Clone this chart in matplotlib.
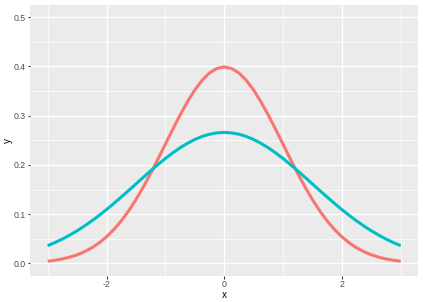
import matplotlib
matplotlib.use("Agg")
import matplotlib.pyplot as plt
from matplotlib.ticker import MultipleLocator

plt.rcParams["font.family"] = ["Liberation Sans", "DejaVu Sans"]

# values, x from -3 to 3 in steps of 0.125
x = [-3.0, -2.875, -2.75, -2.625, -2.5, -2.375, -2.25, -2.125, -2.0, -1.875, -1.75, -1.625,
     -1.5, -1.375, -1.25, -1.125, -1.0, -0.875, -0.75, -0.625, -0.5, -0.375, -0.25, -0.125,
     0.0, 0.125, 0.25, 0.375, 0.5, 0.625, 0.75, 0.875, 1.0, 1.125, 1.25, 1.375,
     1.5, 1.625, 1.75, 1.875, 2.0, 2.125, 2.25, 2.375, 2.5, 2.625, 2.75, 2.875, 3.0]
y_narrow = [0.0044, 0.0064, 0.0091, 0.0127, 0.0175, 0.0238, 0.0317, 0.0417, 0.0540, 0.0688,
            0.0863, 0.1065, 0.1295, 0.1550, 0.1826, 0.2119, 0.2420, 0.2721, 0.3011, 0.3282,
            0.3521, 0.3718, 0.3867, 0.3958, 0.3989, 0.3958, 0.3867, 0.3718, 0.3521, 0.3282,
            0.3011, 0.2721, 0.2420, 0.2119, 0.1826, 0.1550, 0.1295, 0.1065, 0.0863, 0.0688,
            0.0540, 0.0417, 0.0317, 0.0238, 0.0175, 0.0127, 0.0091, 0.0064, 0.0044]
y_wide = [0.0360, 0.0424, 0.0495, 0.0575, 0.0663, 0.0759, 0.0864, 0.0975, 0.1093, 0.1218,
          0.1347, 0.1479, 0.1613, 0.1747, 0.1880, 0.2008, 0.2130, 0.2243, 0.2347, 0.2438,
          0.2516, 0.2578, 0.2623, 0.2650, 0.2660, 0.2650, 0.2623, 0.2578, 0.2516, 0.2438,
          0.2347, 0.2243, 0.2130, 0.2008, 0.1880, 0.1747, 0.1613, 0.1479, 0.1347, 0.1218,
          0.1093, 0.0975, 0.0864, 0.0759, 0.0663, 0.0575, 0.0495, 0.0424, 0.0360]

x_ticks = [-2, 0, 2]
y_ticks = [0.0, 0.1, 0.2, 0.3, 0.4, 0.5]

fig = plt.figure(figsize=(4.23, 3.02), dpi=100)
ax = fig.add_axes([0.071, 0.087, 0.918, 0.897])
ax.set_facecolor("#EBEBEB")

ax.plot(x, y_narrow, color="#F8766D", lw=2.2, solid_capstyle="butt", zorder=3)
ax.plot(x, y_wide, color="#00BFC4", lw=2.2, solid_capstyle="butt", zorder=3)

ax.set_xlim(-3.3, 3.3)
ax.set_ylim(-0.025, 0.525)
ax.set_xticks(x_ticks)
ax.set_xticklabels([str(t) for t in x_ticks])
ax.set_yticks(y_ticks)
ax.set_yticklabels([f"{t:.1f}" for t in y_ticks])
ax.xaxis.set_minor_locator(MultipleLocator(1))
ax.yaxis.set_minor_locator(MultipleLocator(0.05))

ax.grid(which="major", color="white", lw=1.0)
ax.grid(which="minor", color="white", lw=0.5)
ax.set_axisbelow(True)
for s in ax.spines.values():
    s.set_visible(False)

ax.tick_params(which="major", length=1.8, width=0.8, color="#333333",
               labelsize=6.3, labelcolor="#4D4D4D", pad=1.2)
ax.tick_params(which="minor", length=0)

ax.set_xlabel("x", fontsize=7.2)
ax.set_ylabel("y", fontsize=7.2)
ax.xaxis.set_label_coords(0.5, -0.053)
ax.yaxis.set_label_coords(-0.045, 0.5)

fig.savefig("out.png", dpi=100)
